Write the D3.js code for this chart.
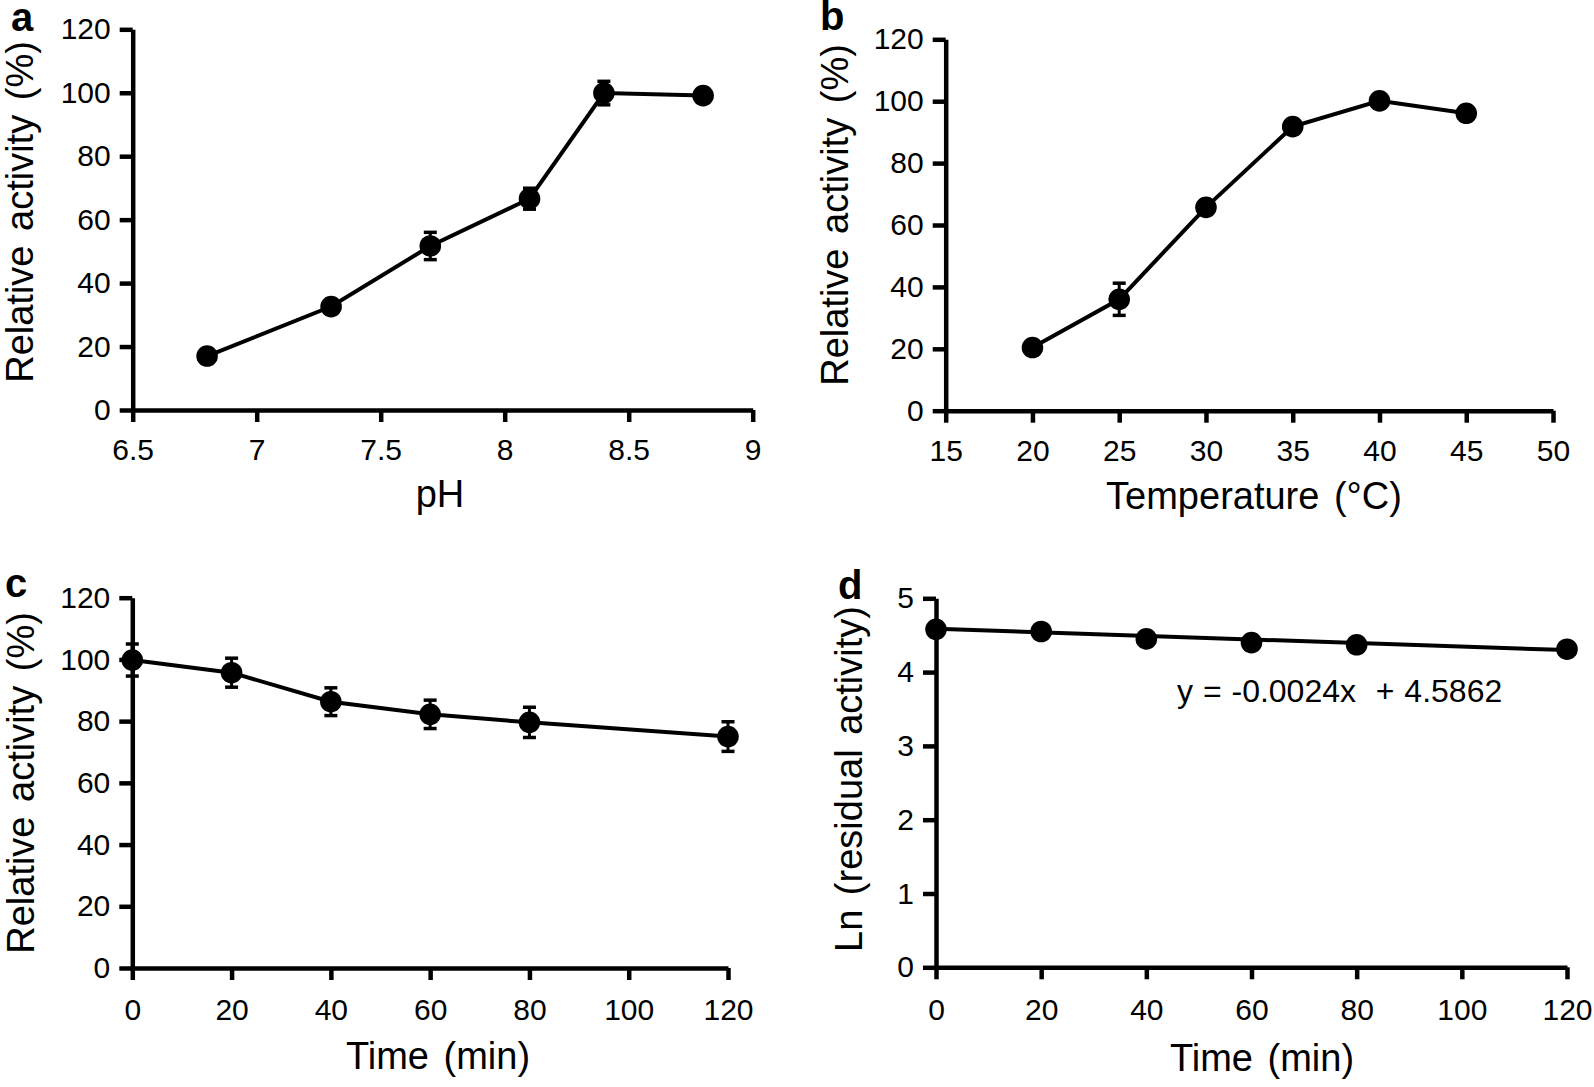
<!DOCTYPE html>
<html><head><meta charset="utf-8">
<script src="https://cdn.jsdelivr.net/npm/d3@7"></script>
<style>
html,body{margin:0;padding:0;background:#fff;}
svg text{font-family:"Liberation Sans",Arial,Helvetica,sans-serif;fill:#000;}
</style></head>
<body>
<svg id="chart" width="1594" height="1087"></svg>
<script>
// ---- Data ----
// Panel a: pH
const phValues = [6.8, 7.3, 7.7, 8.1, 8.4, 8.8];
const phActivity = [17.0, 32.6, 51.7, 66.6, 99.9, 99.1];
const phError = [1.0, 1.0, 4.3, 3.3, 3.7, 1.0];
const phTicks = [6.5, 7, 7.5, 8, 8.5, 9];

// Panel b: temperature
const tempValues = [20, 25, 30, 35, 40, 45];
const tempActivity = [20.4, 36.0, 65.7, 91.8, 100.1, 96.1];
const tempError = [1.0, 5.2, 2.0, 2.0, 2.0, 2.0];
const tempTicks = [15, 20, 25, 30, 35, 40, 45, 50];

// Panel c: stability over time
const timeValues = [0, 20, 40, 60, 80, 120];
const timeActivity = [99.8, 95.7, 86.3, 82.2, 79.6, 75.0];
const timeError = [5.2, 4.7, 4.5, 4.6, 4.9, 4.8];
const timeTicks = [0, 20, 40, 60, 80, 100, 120];
const activityTicks = [0, 20, 40, 60, 80, 100, 120];

// Panel d: ln(residual activity)
const lnValues = [4.58, 4.55, 4.45, 4.40, 4.37, 4.31];
const lnTicks = [0, 1, 2, 3, 4, 5];
const fitSlope = -0.0024;
const fitIntercept = 4.5862;
const fitLabel = "y = -0.0024x  + 4.5862";

const svg = d3.select("#chart");

function panel(cfg) {
  const x = d3.scaleLinear().domain(cfg.xDomain).range([cfg.left, cfg.right]);
  const y = d3.scaleLinear().domain(cfg.yDomain).range([cfg.bottom, cfg.top]);
  const g = svg.append("g");

  const xAxis = g.append("g").attr("transform", `translate(0,${cfg.bottom})`)
    .call(d3.axisBottom(x).tickValues(cfg.xTicks).tickSize(12).tickSizeOuter(0).tickPadding(cfg.xPad)
      .tickFormat(d3.format("")));
  const yAxis = g.append("g").attr("transform", `translate(${cfg.left},0)`)
    .call(d3.axisLeft(y).tickValues(cfg.yTicks).tickSize(13).tickSizeOuter(0).tickPadding(9)
      .tickFormat(d3.format("")));
  [xAxis, yAxis].forEach(a => {
    a.select(".domain").attr("stroke", "#000").attr("stroke-width", 4.5);
    a.selectAll(".tick line").attr("stroke", "#000").attr("stroke-width", 4.5);
    a.selectAll(".tick text").attr("font-size", 30).attr("fill", "#000");
  });

  // connecting line / fit
  if (cfg.fit) {
    const xEnd = cfg.xs[cfg.xs.length - 1];
    g.append("line")
      .attr("x1", x(cfg.xDomain[0])).attr("y1", y(cfg.fit[1]))
      .attr("x2", x(xEnd)).attr("y2", y(cfg.fit[1] + cfg.fit[0] * xEnd))
      .attr("stroke", "#000").attr("stroke-width", 4);
  } else {
    const pts = cfg.xs.map((v, i) => [v, cfg.ys[i]]);
    g.append("path").datum(pts)
      .attr("d", d3.line().x(d => x(d[0])).y(d => y(d[1])))
      .attr("fill", "none").attr("stroke", "#000").attr("stroke-width", 4);
  }

  // error bars
  if (cfg.err) {
    cfg.xs.forEach((v, i) => {
      const e = cfg.err[i];
      const cx = x(v);
      g.append("line").attr("x1", cx).attr("x2", cx)
        .attr("y1", y(cfg.ys[i] - e)).attr("y2", y(cfg.ys[i] + e))
        .attr("stroke", "#000").attr("stroke-width", 3);
      [cfg.ys[i] - e, cfg.ys[i] + e].forEach(val => {
        g.append("line").attr("x1", cx - 6.5).attr("x2", cx + 6.5)
          .attr("y1", y(val)).attr("y2", y(val))
          .attr("stroke", "#000").attr("stroke-width", 3.5);
      });
    });
  }

  // points
  g.selectAll("circle.pt").data(cfg.xs).join("circle")
    .attr("class", "pt")
    .attr("cx", d => x(d)).attr("cy", (d, i) => y(cfg.ys[i]))
    .attr("r", 10.8).attr("fill", "#000");

  // axis titles
  g.append("text").attr("x", cfg.xTitlePos[0]).attr("y", cfg.xTitlePos[1])
    .attr("text-anchor", "middle").attr("font-size", 38).attr("word-spacing", 4).text(cfg.xTitle);
  g.append("text")
    .attr("transform", `translate(${cfg.yTitlePos[0]},${cfg.yTitlePos[1]}) rotate(-90)`)
    .attr("text-anchor", "middle")
    .attr("font-size", 38).attr("word-spacing", 4).text(cfg.yTitle);
  // panel letter
  g.append("text").attr("x", cfg.letterPos[0]).attr("y", cfg.letterPos[1])
    .attr("font-size", 40).attr("font-weight", "bold").text(cfg.letter);
  return {x, y, g};
}

panel({
  xDomain: [6.5, 9], yDomain: [0, 120], xTicks: phTicks, yTicks: activityTicks,
  left: 132.7, right: 752.7, top: 29.3, bottom: 410, xPad: 17,
  xs: phValues, ys: phActivity, err: phError,
  xTitle: "pH", xTitlePos: [440, 507],
  yTitle: "Relative activity (%)", yTitlePos: [33, 212],
  letter: "a", letterPos: [11, 31]
});

panel({
  xDomain: [15, 50], yDomain: [0, 120], xTicks: tempTicks, yTicks: activityTicks,
  left: 945.7, right: 1553, top: 39.3, bottom: 410.7, xPad: 17,
  xs: tempValues, ys: tempActivity, err: tempError,
  xTitle: "Temperature (°C)", xTitlePos: [1254, 509],
  yTitle: "Relative activity (%)", yTitlePos: [848, 215],
  letter: "b", letterPos: [820, 30]
});

panel({
  xDomain: [0, 120], yDomain: [0, 120], xTicks: timeTicks, yTicks: activityTicks,
  left: 132.3, right: 728, top: 597.7, bottom: 968, xPad: 19,
  xs: timeValues, ys: timeActivity, err: timeError,
  xTitle: "Time (min)", xTitlePos: [438, 1069],
  yTitle: "Relative activity (%)", yTitlePos: [34, 783],
  letter: "c", letterPos: [5, 597]
});

const pd = panel({
  xDomain: [0, 120], yDomain: [0, 5], xTicks: timeTicks, yTicks: lnTicks,
  left: 936, right: 1567, top: 598.3, bottom: 967.3, xPad: 19,
  xs: timeValues, ys: lnValues, err: null, fit: [fitSlope, fitIntercept],
  xTitle: "Time (min)", xTitlePos: [1262, 1071],
  yTitle: "Ln (residual activity)", yTitlePos: [862, 779],
  letter: "d", letterPos: [838, 599]
});
pd.g.append("text").attr("x", 1177).attr("y", 702).attr("font-size", 32)
  .attr("word-spacing", 1)
  .attr("xml:space", "preserve").style("white-space", "pre").text(fitLabel);
</script>
</body></html>
